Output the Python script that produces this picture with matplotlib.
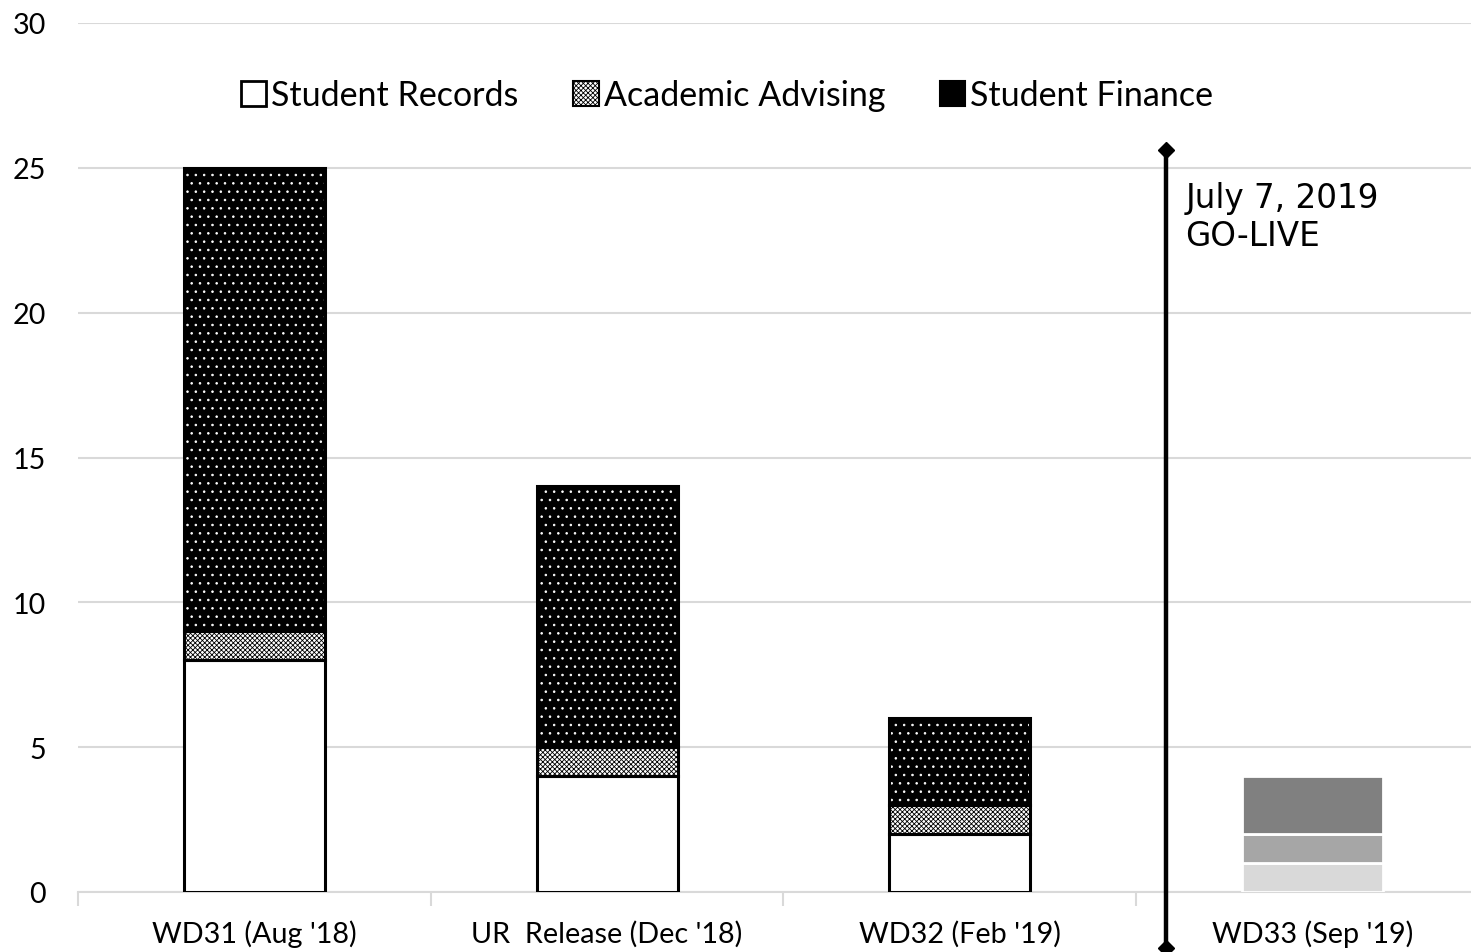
import matplotlib
matplotlib.use("Agg")
import matplotlib.pyplot as plt
from matplotlib.patches import Patch
import numpy as np

categories = ["WD31 (Aug '18)", "UR  Release (Dec '18)", "WD32 (Feb '19)", "WD33 (Sep '19)"]
student_records = [8, 4, 2, 1]
academic_advising = [1, 1, 1, 1]
student_finance = [16, 9, 3, 2]
series_names = ["Student Records", "Academic Advising", "Student Finance"]
future_colors = ["#d9d9d9", "#a6a6a6", "#808080"]
golive_label = "July 7, 2019\nGO-LIVE"
golive_pos = 2.584

plt.rcParams['font.family'] = ['Lato', 'DejaVu Sans']
plt.rcParams['hatch.linewidth'] = 0.6

fig = plt.figure(figsize=(14.71, 9.53), dpi=100)
ax = fig.add_axes([78/1471, 1-893/953, (1489-78)/1471, (893-24)/953])

x = np.arange(len(categories))
w = 0.4
n_past = 3
sr = np.array(student_records, float)
aa = np.array(academic_advising, float)
sf = np.array(student_finance, float)

xp = x[:n_past]
# Student Records
ax.bar(xp, sr[:n_past], w, color='white', edgecolor='black', linewidth=2.2, zorder=3)
# Academic Advising (checker)
ax.bar(xp, aa[:n_past], w, bottom=sr[:n_past], color='white', edgecolor='black',
       hatch='xxxxxxx', linewidth=0, zorder=3)
ax.bar(xp, aa[:n_past], w, bottom=sr[:n_past], color='none', edgecolor='black',
       linewidth=2.2, zorder=4)
# Student Finance (black with white dots)
ax.bar(xp, sf[:n_past], w, bottom=(sr+aa)[:n_past], color='black', edgecolor='white',
       hatch='..', linewidth=0, zorder=3)
ax.bar(xp, sf[:n_past], w, bottom=(sr+aa)[:n_past], color='none', edgecolor='black',
       linewidth=2.2, zorder=4)

# Future release in grays
xf = x[n_past:]
ax.bar(xf, sr[n_past:], w, color=future_colors[0], edgecolor='white', linewidth=2, zorder=3)
ax.bar(xf, aa[n_past:], w, bottom=sr[n_past:], color=future_colors[1], edgecolor='white', linewidth=2, zorder=3)
ax.bar(xf, sf[n_past:], w, bottom=(sr+aa)[n_past:], color=future_colors[2], edgecolor='white', linewidth=2, zorder=3)

# Go-live line
ax.plot([golive_pos, golive_pos], [-1.95, 25.6], color='black', linewidth=3.2,
        marker='D', markersize=8, clip_on=False, zorder=5)
ax.text(golive_pos + 0.055, 24.55, golive_label, fontsize=23.5, family=['DejaVu Sans'],
        va='top', ha='left', linespacing=1.2, zorder=5)

ax.set_xlim(-0.5, 3.5)
ax.set_ylim(0, 30)
ax.set_yticks(np.arange(0, 31, 5))
ax.yaxis.grid(True, color='#d9d9d9', linewidth=1.5, zorder=0)
ax.set_axisbelow(True)
for s in ['top', 'right', 'left']:
    ax.spines[s].set_visible(False)
ax.spines['bottom'].set_color('#d9d9d9')
ax.spines['bottom'].set_linewidth(1.5)

ax.set_xticks(x)
ax.set_xticklabels(categories)
ax.set_xticks(np.arange(-0.5, 3.6, 1), minor=True)
ax.tick_params(axis='x', which='major', length=0, pad=20, labelsize=20.7)
ax.tick_params(axis='x', which='minor', length=10, color='#d9d9d9', width=1.5)
ax.tick_params(axis='y', length=0, pad=23, labelsize=20.7)

handles = [
    Patch(facecolor='white', edgecolor='black', linewidth=2),
    Patch(facecolor='white', edgecolor='black', hatch='xxxxxxx', linewidth=1.5),
    Patch(facecolor='black', edgecolor='black', linewidth=1.5),
]
fig.legend(handles, series_names, loc='center', bbox_to_anchor=(727/1471, 1-96/953),
           ncol=3, frameon=False, fontsize=24.5, handlelength=0.75, handleheight=0.75,
           handletextpad=0.15, columnspacing=1.6)

fig.savefig("out.png", dpi=100)
